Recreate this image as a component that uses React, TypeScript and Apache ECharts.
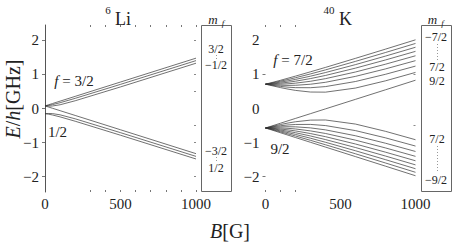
import React, { useEffect, useRef } from "react";
import * as echarts from "echarts";

// ---------- data (energies in GHz) ----------
const LI_B = [0, 25, 50, 100, 200, 500, 1000];
const LI_F32_P32 = [0.076, 0.111, 0.146, 0.216, 0.356, 0.777, 1.477];
const LI_F32_P12 = [0.076, 0.092, 0.115, 0.17, 0.298, 0.708, 1.405];
const LI_F32_M12 = [0.076, 0.07, 0.074, 0.11, 0.227, 0.633, 1.329];
const LI_F32_M32 = [0.076, 0.041, 0.006, -0.064, -0.204, -0.624, -1.325];
const LI_F12_M12 = [-0.152, -0.146, -0.15, -0.186, -0.303, -0.709, -1.405];
const LI_F12_P12 = [-0.152, -0.168, -0.191, -0.246, -0.374, -0.784, -1.481];

const K_B = [0, 25, 50, 100, 150, 200, 300, 400, 600, 800, 1000];
// f = 7/2 manifold
const K_F72_P72 = [0.714, 0.687, 0.662, 0.613, 0.569, 0.531, 0.483, 0.48, 0.6, 0.812, 1.059];
const K_F72_P52 = [0.714, 0.696, 0.678, 0.648, 0.626, 0.612, 0.61, 0.643, 0.792, 1.004, 1.244];
const K_F72_P32 = [0.714, 0.704, 0.695, 0.682, 0.678, 0.681, 0.712, 0.769, 0.943, 1.162, 1.404];
const K_F72_P12 = [0.714, 0.711, 0.71, 0.714, 0.725, 0.744, 0.799, 0.876, 1.071, 1.3, 1.547];
const K_F72_M12 = [0.714, 0.719, 0.726, 0.744, 0.77, 0.801, 0.878, 0.97, 1.185, 1.424, 1.677];
const K_F72_M32 = [0.714, 0.727, 0.741, 0.774, 0.811, 0.854, 0.949, 1.055, 1.288, 1.538, 1.797];
const K_F72_M52 = [0.714, 0.734, 0.756, 0.802, 0.851, 0.903, 1.015, 1.133, 1.383, 1.643, 1.909];
const K_F72_M72 = [0.714, 0.742, 0.77, 0.828, 0.889, 0.95, 1.077, 1.206, 1.472, 1.742, 2.015];
// f = 9/2 manifold
const K_F92_P92 = [-0.572, -0.537, -0.502, -0.431, -0.361, -0.291, -0.151, -0.011, 0.269, 0.549, 0.83];
const K_F92_P72 = [-0.572, -0.545, -0.519, -0.47, -0.426, -0.389, -0.341, -0.337, -0.457, -0.67, -0.916];
const K_F92_P52 = [-0.572, -0.553, -0.535, -0.506, -0.483, -0.469, -0.467, -0.501, -0.649, -0.861, -1.102];
const K_F92_P32 = [-0.572, -0.561, -0.552, -0.539, -0.535, -0.538, -0.569, -0.627, -0.8, -1.019, -1.261];
const K_F92_P12 = [-0.572, -0.569, -0.568, -0.571, -0.582, -0.601, -0.657, -0.733, -0.929, -1.157, -1.404];
const K_F92_M12 = [-0.572, -0.576, -0.583, -0.602, -0.627, -0.658, -0.735, -0.827, -1.042, -1.281, -1.534];
const K_F92_M32 = [-0.572, -0.584, -0.598, -0.631, -0.669, -0.711, -0.806, -0.912, -1.145, -1.395, -1.654];
const K_F92_M52 = [-0.572, -0.592, -0.613, -0.659, -0.708, -0.761, -0.872, -0.991, -1.24, -1.501, -1.767];
const K_F92_M72 = [-0.572, -0.599, -0.627, -0.686, -0.746, -0.807, -0.934, -1.064, -1.329, -1.599, -1.872];
const K_F92_M92 = [-0.572, -0.607, -0.642, -0.712, -0.782, -0.852, -0.992, -1.132, -1.412, -1.692, -1.973];

const X_LABELS = [0, 500, 1000];
const Y_LABELS = [-2, -1, 0, 1, 2];
const LI_X_TICKS = [300, 400, 500, 600, 700, 800, 900, 1000];
const K_X_TICKS = [0, 100, 200];

const LI_CURVES = [LI_F32_P32, LI_F32_P12, LI_F32_M12, LI_F32_M32, LI_F12_M12, LI_F12_P12];
const K_CURVES = [
  K_F72_P72, K_F72_P52, K_F72_P32, K_F72_P12, K_F72_M12, K_F72_M32, K_F72_M52, K_F72_M72,
  K_F92_P92, K_F92_P72, K_F92_P52, K_F92_P32, K_F92_P12, K_F92_M12, K_F92_M32, K_F92_M52, K_F92_M72, K_F92_M92,
];

const LI_MF = ["3/2", "−1/2", "−3/2", "1/2"];
const K_MF = ["−7/2", "7/2", "9/2", "7/2", "−9/2"];

const SERIF = "Liberation Serif";

const fmt = (v: number) => (v < 0 ? "−" + Math.abs(v) : String(v));

function xAxes(grid: number, ticks: number[]) {
  const common = {
    gridIndex: grid,
    type: "value",
    min: 0,
    max: 1000,
    splitLine: { show: false },
    axisLine: { show: false, onZero: false },
  };
  return [
    {
      ...common,
      position: "bottom",
      axisTick: { show: true, inside: true, length: 2, customValues: ticks, lineStyle: { color: "#777", width: 1 } },
      axisLabel: {
        customValues: X_LABELS,
        margin: 4,
        fontFamily: SERIF,
        fontSize: 15,
        color: "#222",
        formatter: (v: number) => String(v),
      },
    },
    {
      ...common,
      position: "top",
      axisTick: { show: true, inside: true, length: 2, customValues: ticks, lineStyle: { color: "#777", width: 1 } },
      axisLabel: { show: false },
    },
  ];
}

function yAxes(grid: number, showLine: boolean, leftTicks: number[], rightTicks: number[]) {
  const common = {
    gridIndex: grid,
    type: "value",
    min: -2.45,
    max: 2.45,
    splitLine: { show: false },
  };
  return [
    {
      ...common,
      position: "left",
      axisLine: { show: showLine, onZero: false, lineStyle: { color: "#555", width: 1 } },
      axisTick: { show: true, length: 3, customValues: leftTicks, lineStyle: { color: "#777", width: 1 } },
      axisLabel: {
        customValues: Y_LABELS,
        margin: 6,
        fontFamily: SERIF,
        fontSize: 15,
        color: "#222",
        formatter: (v: number) => fmt(v),
      },
    },
    {
      ...common,
      position: "right",
      axisLine: { show: false, onZero: false },
      axisTick: { show: true, inside: true, length: 2, customValues: rightTicks, lineStyle: { color: "#888", width: 1 } },
      axisLabel: { show: false },
    },
  ];
}

function curveSeries(bs: number[], curves: number[][], xIdx: number, yIdx: number) {
  return curves.map((vs) => ({
    type: "line",
    xAxisIndex: xIdx,
    yAxisIndex: yIdx,
    data: bs.map((b, i) => [b, vs[i]]),
    showSymbol: false,
    smooth: false,
    silent: true,
    lineStyle: { color: "#333", width: 0.7 },
  }));
}

const txt = (x: number, y: number, text: string, size: number, extra: any = {}) => ({
  type: "text",
  x,
  y,
  silent: true,
  style: {
    text,
    fontFamily: SERIF,
    fontSize: size,
    fill: "#222",
    align: "center",
    verticalAlign: "middle",
    ...extra,
  },
});

const italicRich = (size: number) => ({
  i: { fontFamily: SERIF, fontSize: size, fontStyle: "italic", fill: "#222" },
  n: { fontFamily: SERIF, fontSize: size, fill: "#222" },
});

export default function App() {
  const ref = useRef<HTMLDivElement>(null);

  useEffect(() => {
    if (!ref.current) return;
    const chart = echarts.init(ref.current, null, { renderer: "svg" });

    const graphic: any[] = [
      // m_f boxes
      { type: "rect", silent: true, shape: { x: 201.5, y: 25.5, width: 30, height: 166 }, style: { fill: "none", stroke: "#666", lineWidth: 1 } },
      { type: "rect", silent: true, shape: { x: 421.5, y: 25.5, width: 30, height: 166 }, style: { fill: "none", stroke: "#666", lineWidth: 1 } },
      // titles
      txt(108, 9.5, "6", 11),
      txt(123, 18.5, "Li", 18),
      txt(329, 9.5, "40", 11),
      txt(345.5, 19, "K", 18),
      // m_f headers
      txt(213, 19, "m", 13, { fontStyle: "italic" }),
      txt(223, 22.5, "f", 9, { fontStyle: "italic" }),
      txt(432.5, 19, "m", 13, { fontStyle: "italic" }),
      txt(442.5, 22.5, "f", 9, { fontStyle: "italic" }),
      // m_f labels Li
      txt(216, 49, LI_MF[0], 12),
      txt(216, 65, LI_MF[1], 12),
      txt(216, 151, LI_MF[2], 12),
      txt(216, 168, LI_MF[3], 12),
      // m_f labels K
      txt(436, 37, K_MF[0], 12),
      txt(437, 67, K_MF[1], 12),
      txt(437, 81, K_MF[2], 12),
      txt(437, 139, K_MF[3], 12),
      txt(436, 180, K_MF[4], 12),
      // dotted connectors
      { type: "line", silent: true, shape: { x1: 216.5, y1: 55, x2: 216.5, y2: 59 }, style: { stroke: "#999", lineWidth: 1, lineDash: [1, 2] } },
      { type: "line", silent: true, shape: { x1: 216.5, y1: 157, x2: 216.5, y2: 161 }, style: { stroke: "#999", lineWidth: 1, lineDash: [1, 2] } },
      { type: "line", silent: true, shape: { x1: 437.5, y1: 44, x2: 437.5, y2: 60 }, style: { stroke: "#999", lineWidth: 1, lineDash: [1, 2] } },
      { type: "line", silent: true, shape: { x1: 437.5, y1: 146, x2: 437.5, y2: 172 }, style: { stroke: "#999", lineWidth: 1, lineDash: [1, 2] } },
      // manifold annotations
      {
        type: "text", silent: true, x: 74, y: 81,
        style: { text: "{i|f}{n| = 3/2}", rich: italicRich(15), align: "center", verticalAlign: "middle" },
      },
      txt(57.5, 132, "1/2", 15),
      {
        type: "text", silent: true, x: 293, y: 60,
        style: { text: "{i|f}{n| = 7/2}", rich: italicRich(15), align: "center", verticalAlign: "middle" },
      },
      txt(280, 149, "9/2", 15),
      // axis names
      {
        type: "text", silent: true, x: 13, y: 99, rotation: Math.PI / 2,
        style: { text: "{i|E}{n|/}{i|h}{n|[GHz]}", rich: italicRich(20), align: "center", verticalAlign: "middle" },
      },
      {
        type: "text", silent: true, x: 230, y: 231,
        style: { text: "{i|B}{n|[G]}", rich: italicRich(20), align: "center", verticalAlign: "middle" },
      },
    ];

    chart.setOption({
      animation: false,
      backgroundColor: "#fff",
      grid: [
        { left: 45, top: 25, width: 151, height: 167 },
        { left: 265.5, top: 25, width: 150, height: 167 },
      ],
      xAxis: [...xAxes(0, LI_X_TICKS), ...xAxes(1, K_X_TICKS)],
      yAxis: [
        ...yAxes(0, true, Y_LABELS, [-2, -1, -0.5, 0.5, 1, 2]),
        ...yAxes(1, false, [1, -2], [1, -0.5]),
      ],
      series: [...curveSeries(LI_B, LI_CURVES, 0, 0), ...curveSeries(K_B, K_CURVES, 2, 2)],
      graphic,
    });

    return () => chart.dispose();
  }, []);

  return (
    <div
      ref={ref}
      style={{ position: "absolute", left: 0, top: 0, width: 453, height: 243 }}
    />
  );
}
